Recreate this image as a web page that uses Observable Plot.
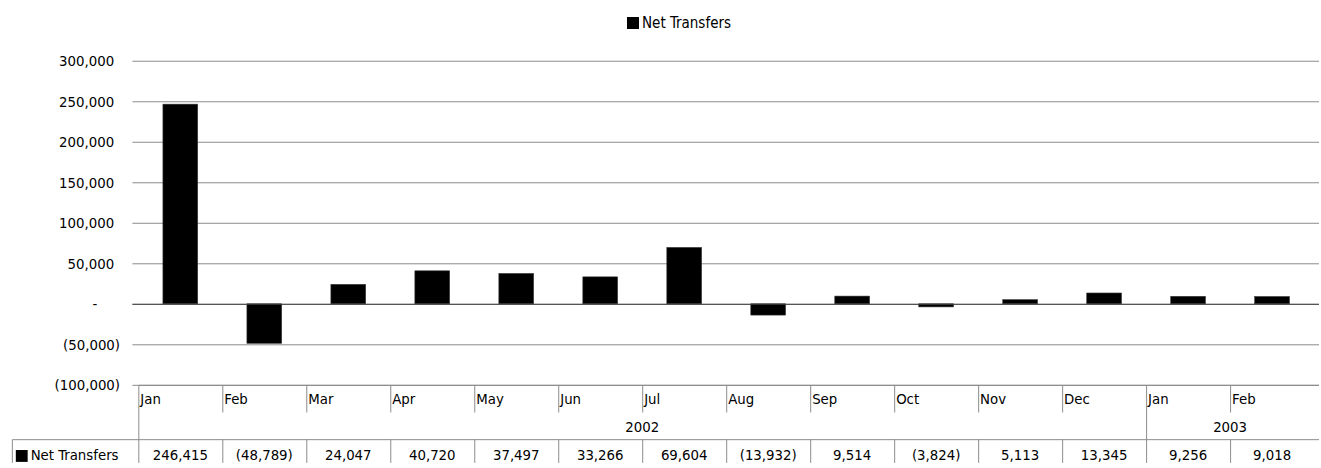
<!DOCTYPE html>
<html><head><meta charset="utf-8">
<script src="https://cdn.jsdelivr.net/npm/d3@7"></script>
<script src="https://cdn.jsdelivr.net/npm/@observablehq/plot@0.6"></script>
<style>
html,body{margin:0;padding:0;background:#fff;overflow:hidden;}
body{width:1321px;height:468px;font-family:Tahoma,"DejaVu Sans Condensed","DejaVu Sans",sans-serif;color:#000;}
#legend{position:relative;height:40px;width:1321px;}
#legend .sw{position:absolute;left:627px;top:17px;width:12px;height:12px;background:#000;}
#legend .lb{position:absolute;left:642px;top:14px;font-size:15px;line-height:18px;color:#000;white-space:nowrap;}
#chart{width:1321px;height:428px;overflow:hidden;}
#chart svg{display:block;}
</style></head><body>
<div id="legend"><span class="sw"></span><span class="lb">Net Transfers</span></div>
<div id="chart"></div>
<script>
const seriesName = "Net Transfers";
const months = ["Jan","Feb","Mar","Apr","May","Jun","Jul","Aug","Sep","Oct","Nov","Dec","Jan","Feb"];
const years = ["2002","2002","2002","2002","2002","2002","2002","2002","2002","2002","2002","2002","2003","2003"];
const values = [246415, -48789, 24047, 40720, 37497, 33266, 69604, -13932, 9514, -3824, 5113, 13345, 9256, 9018];
const yTicks = [-100000, -50000, 0, 50000, 100000, 150000, 200000, 250000, 300000];

const FONT = 'Tahoma,"DejaVu Sans Condensed","DejaVu Sans",sans-serif';
const GRID = "#8a8a8a";
const data = months.map((m, i) => ({key: i, month: m, year: years[i], value: values[i]}));
const num = d3.format(",");
const fmt = v => v === 0 ? "-" : v < 0 ? `(${num(-v)})` : num(v);

const W = 1337, H = 428;
const bw0 = (W - 134 - 2) / months.length;
const inset = (bw0 - 36) / 2;

const chart = Plot.plot({
  width: W, height: H,
  marginLeft: 134, marginRight: 2, marginTop: 21, marginBottom: 79,
  style: {fontFamily: FONT, fontSize: "15px", color: "#000", background: "#fff"},
  x: {type: "band", domain: data.map(d => d.key), padding: 0, axis: null},
  y: {domain: [-100000, 300000], axis: null},
  marks: [
    Plot.gridY(yTicks, {stroke: GRID, strokeOpacity: 1}),
    Plot.barY(data, {x: "key", y: "value", fill: "#000", stroke: "#3a3a3a", strokeWidth: 0.6, insetLeft: inset, insetRight: inset}),
    Plot.ruleY([0], {stroke: "#404040"}),
    Plot.axisY(yTicks.filter(v => v > 0), {label: null, tickSize: 0, tickPadding: 19, tickFormat: fmt, fill: "#000"}),
    Plot.axisY([0], {label: null, tickSize: 0, tickPadding: 36, tickFormat: fmt, fill: "#000"}),
    Plot.axisY(yTicks.filter(v => v < 0), {label: null, tickSize: 0, tickPadding: 13, tickFormat: fmt, fill: "#000"})
  ]
});
document.getElementById("chart").appendChild(chart);

// data table under the plot, positioned with Plot's own scales
const xs = chart.scale("x"), ys = chart.scale("y");
const bw = xs.bandwidth;
const left = i => xs.apply(i);
const xEnd = xs.range[1];
const yTop = ys.apply(-100000);
const yMonthBot = yTop + 28, yValTop = yTop + 55, yBot = H;
const px = v => Math.round(v) + 0.5;
const svg = d3.select(chart);
const g = svg.append("g").attr("stroke", GRID).attr("stroke-width", 1).attr("fill", "none");
const line = (x1, y1, x2, y2) => g.append("line").attr("x1", x1).attr("y1", y1).attr("x2", x2).attr("y2", y2);
line(px(left(0)), px(yTop), xEnd, px(yTop));
line(12.5, px(yValTop), xEnd, px(yValTop));
line(12.5, px(yValTop), 12.5, yBot);
line(px(left(0)), px(yTop), px(left(0)), yBot);
data.forEach((d, i) => {
  if (i === 0) return;
  const x = px(left(i));
  const yearStart = years[i] !== years[i - 1];
  line(x, px(yTop), x, yearStart ? yBot : yMonthBot);
  if (!yearStart) line(x, px(yValTop), x, yBot);
});
const t = svg.append("g").attr("fill", "#000").attr("font-family", FONT).attr("font-size", 15);
data.forEach((d, i) => {
  t.append("text").attr("x", left(i) + 2).attr("y", yTop + 14).attr("dy", "0.35em").attr("text-anchor", "start").text(d.month);
  t.append("text").attr("x", left(i) + bw / 2).attr("y", yValTop + 16).attr("dy", "0.35em").attr("text-anchor", "middle").text(fmt(d.value));
});
d3.groups(data, d => d.year).forEach(([yr, items]) => {
  const a = left(items[0].key), b = left(items[items.length - 1].key) + bw;
  t.append("text").attr("x", (a + b) / 2).attr("y", yTop + 42).attr("dy", "0.35em").attr("text-anchor", "middle").text(yr);
});
t.append("rect").attr("x", 16).attr("y", yValTop + 11).attr("width", 12).attr("height", 12).attr("fill", "#000");
t.append("text").attr("x", 31).attr("y", yValTop + 16).attr("dy", "0.35em").attr("text-anchor", "start").text(seriesName);
</script>
</body></html>
